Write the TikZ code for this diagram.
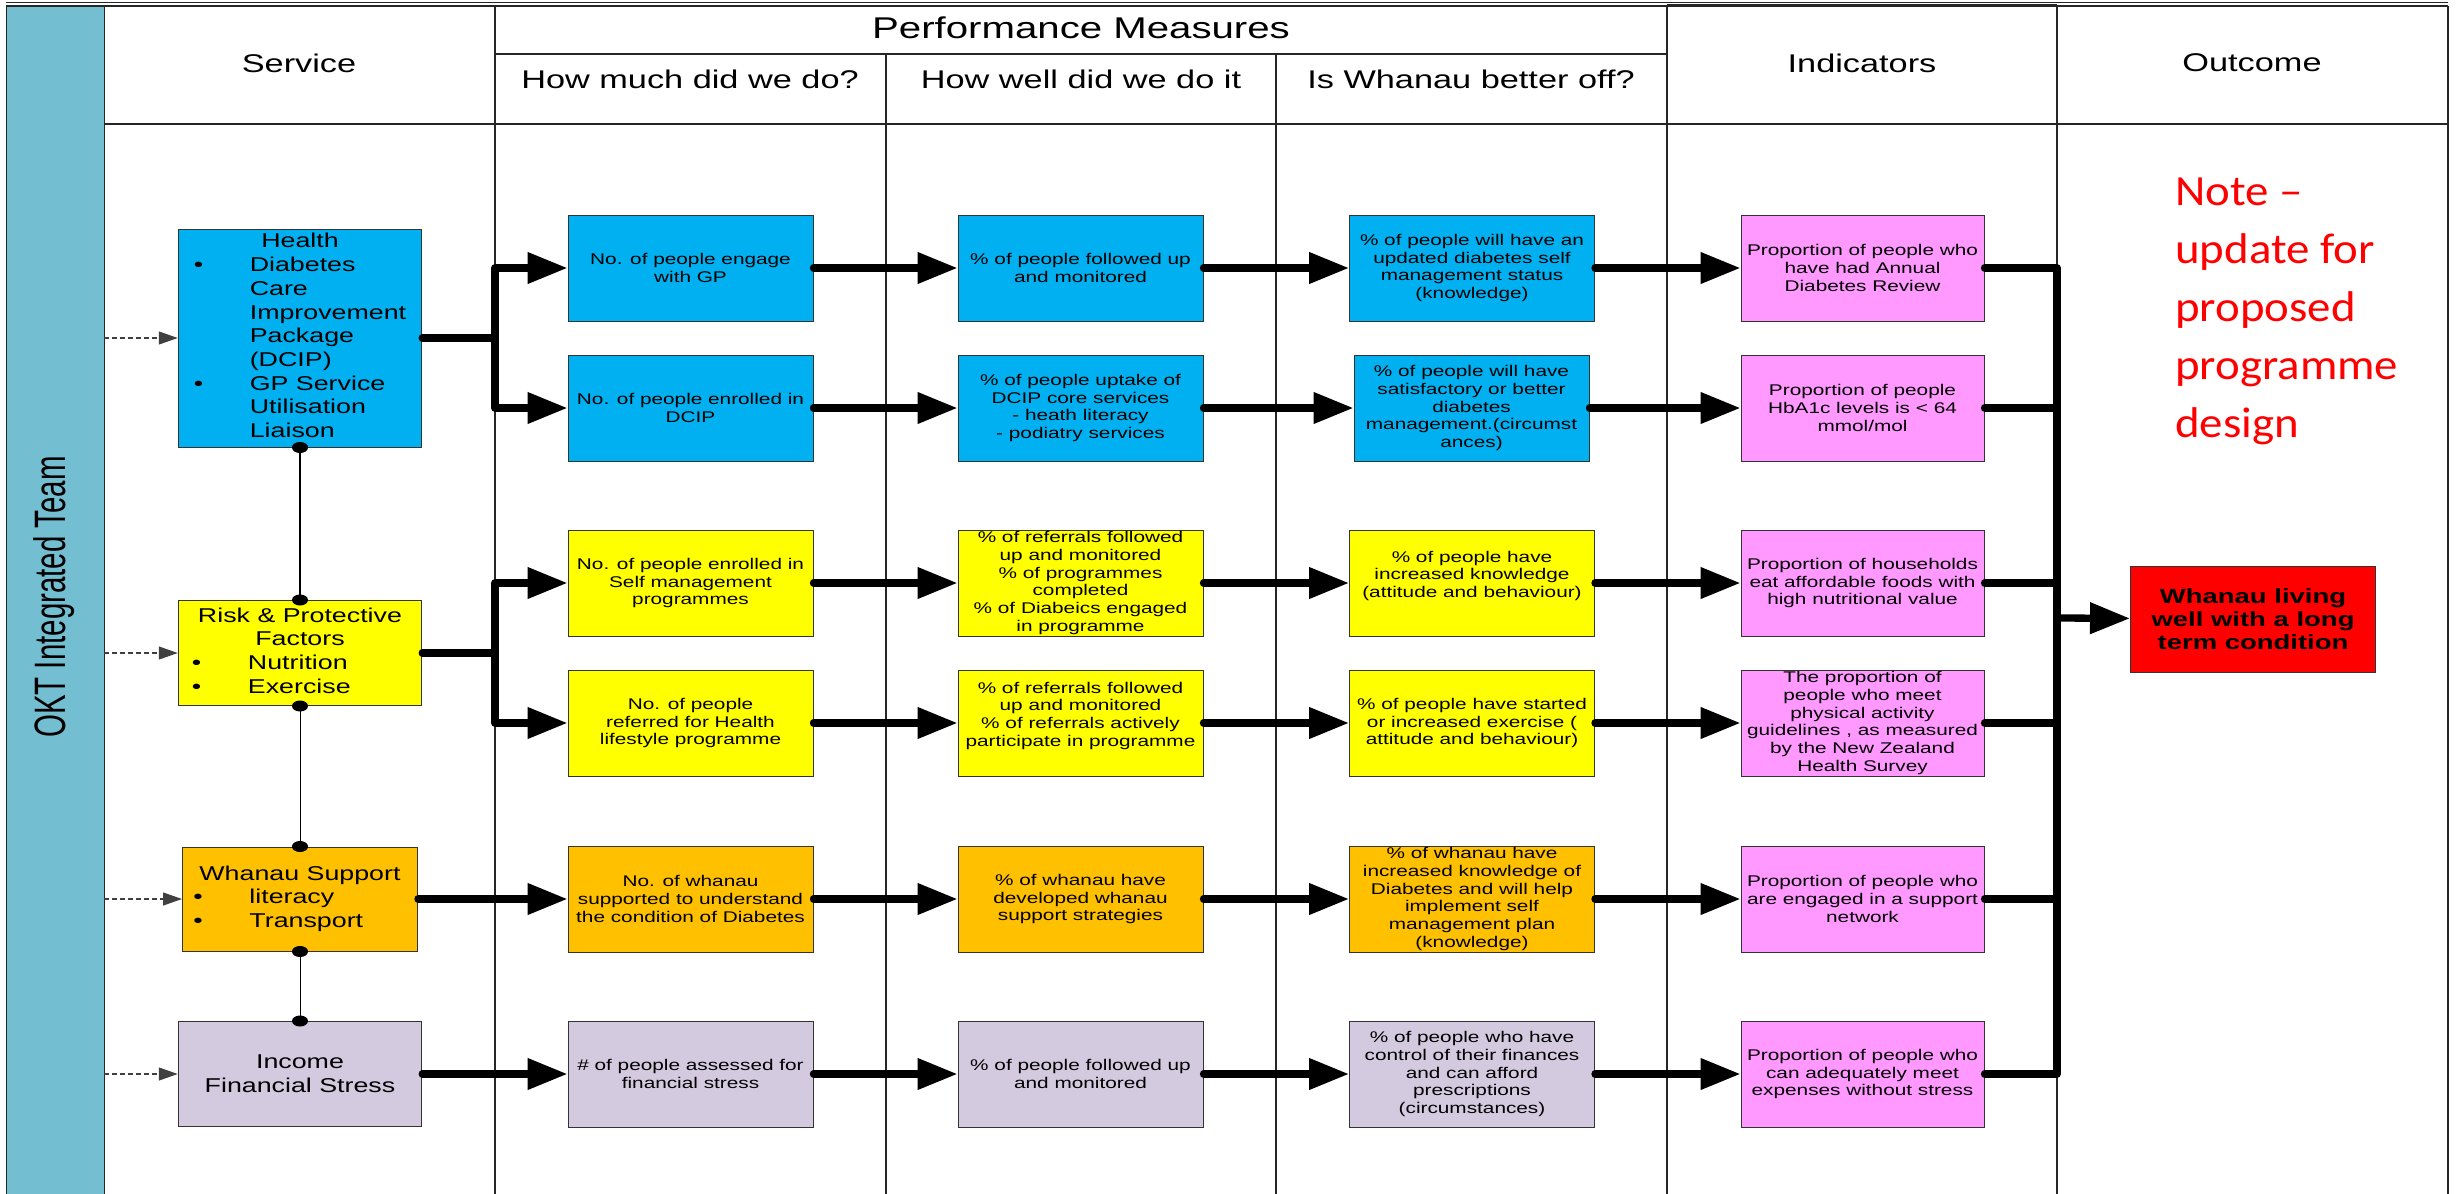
\documentclass[tikz,border=0pt]{standalone}
\usepackage{fontspec}
\setmainfont{Liberation Sans}[FakeStretch=1.34]
\newfontfamily\sidefont{Liberation Sans}[FakeStretch=0.67]
\newfontfamily\notefont{Carlito}[FakeStretch=1.09]
\usepackage{tikz}
\usetikzlibrary{arrows.meta}
\definecolor{stripblue}{HTML}{74BED2}
\definecolor{cblue}{HTML}{00B0F0}
\definecolor{cyellow}{HTML}{FFFF00}
\definecolor{corange}{HTML}{FFC000}
\definecolor{clilac}{HTML}{D3CAE0}
\definecolor{cpink}{HTML}{FF99FF}
\begin{document}
\begin{tikzpicture}[x=1pt, y=-1pt,
    box/.style={draw=black!80, line width=1pt, minimum width=245pt, minimum height=106pt, inner sep=0pt, align=center, font=\fontsize{15.5}{17.7}\selectfont},
    svc/.style={draw=black!80, line width=1pt, minimum width=243.5pt, minimum height=105pt, inner sep=0pt, align=center, font=\fontsize{20}{23.7}\selectfont},
    head/.style={font=\fontsize{25.6}{30}\selectfont},
    grid/.style={draw=black!85, line width=1.2pt},
    flow/.style={line width=7.3pt, line cap=round, line join=round, -{Triangle[length=40pt,width=30pt]}},
    link/.style={line width=7.3pt, line cap=round, line join=round},
    feed/.style={draw=black!75, line width=1.2pt, dash pattern=on 5pt off 3pt, -{Triangle[length=19pt,width=13pt]}},
    tie/.style={line width=1pt, {Circle[length=11pt,width=16pt]}-{Circle[length=11pt,width=16pt]}, shorten <=-5.5pt, shorten >=-5.5pt}]
    \useasboundingbox (0,0) rectangle (2458,1194);

    \draw[grid] (6,2.5) -- (2448,2.5) (6,6) -- (2448,6);
    \draw[grid, line width=2.2pt] (1667,5) -- (2057,5);
    \draw[grid] (104,124) -- (2448,124) (495,54) -- (1667,54);
    \draw[grid] (495,6) -- (495,1194) (886,54) -- (886,1194) (1276,54) -- (1276,1194) (2448,6) -- (2448,1194);
    \draw[grid, line width=2.2pt] (1667,6) -- (1667,1194) (2057,6) -- (2057,1194);

    \node[draw=black!85, fill=stripblue, minimum width=98pt, minimum height=1194pt, inner sep=0pt, anchor=north west] (strip) at (6,6) {};
    \node[rotate=90, font=\sidefont\fontsize{44}{50}\selectfont] (team) at (54,597) {OKT Integrated Team};

    \node[head] (service) at (299,63) {Service};
    \node[font=\fontsize{30}{34}\selectfont] (perf) at (1081,28) {Performance Measures};
    \node[head] (much) at (690,79) {How much did we do?};
    \node[head] (well) at (1081,79) {How well did we do it};
    \node[head] (better) at (1471,79) {Is Whanau better off?};
    \node[head] (indic) at (1862,63) {Indicators};
    \node[head] (outc) at (2252,63) {Outcome};

    \node[svc, fill=cblue, minimum height=218pt] (sone) at (300,338) {\begin{tabular}{@{}p{56pt}@{}l@{}}
        \multicolumn{2}{c}{Health}\\
        \textbullet & Diabetes\\ & Care\\ & Improvement\\ & Package\\ & (DCIP)\\
        \textbullet & GP Service\\ & Utilisation\\ & Liaison
      \end{tabular}};
    \node[svc, fill=cyellow] (stwo) at (300,653) {\begin{tabular}{@{}p{56pt}@{}l@{}}
        \multicolumn{2}{c}{Risk \& Protective}\\ \multicolumn{2}{c}{Factors}\\
        \textbullet & Nutrition\\ \textbullet & Exercise
      \end{tabular}};
    \node[svc, fill=corange, minimum width=235pt, minimum height=104pt] (sthree) at (300,899) {\begin{tabular}{@{}p{56pt}@{}l@{}}
        \multicolumn{2}{c}{Whanau Support}\\
        \textbullet & literacy\\ \textbullet & Transport
      \end{tabular}};
    \node[svc, fill=clilac] (sfour) at (300,1074) {Income\\Financial Stress};

    \node[box, fill=cblue] (mone) at (690.5,268) {No. of people engage\\with GP};
    \node[box, fill=cblue] (wone) at (1080.5,268) {\% of people followed up\\and monitored};
    \node[box, fill=cblue] (bone) at (1472,268) {\% of people will have an\\updated diabetes self\\management status\\(knowledge)};
    \node[box, fill=cpink, minimum width=243pt] (ione) at (1862.5,268) {Proportion of people who\\have had Annual\\Diabetes Review};

    \node[box, fill=cblue] (mtwo) at (690.5,408) {No. of people enrolled in\\DCIP};
    \node[box, fill=cblue] (wtwo) at (1080.5,408) {\% of people uptake of\\DCIP core services\\- heath literacy\\- podiatry services};
    \node[box, fill=cblue, minimum width=235pt] (btwo) at (1471.5,408) {\% of people will have\\satisfactory or better\\diabetes\\management.(circumst\\ances)};
    \node[box, fill=cpink, minimum width=243pt] (itwo) at (1862.5,408) {Proportion of people\\HbA1c levels is \textless{} 64\\mmol/mol};

    \node[box, fill=cyellow] (mthree) at (690.5,583) {No. of people enrolled in\\Self management\\programmes};
    \node[box, fill=cyellow] (wthree) at (1080.5,583) {\% of referrals followed\\up and monitored\\\% of programmes\\completed\\\% of Diabeics engaged\\in programme};
    \node[box, fill=cyellow] (bthree) at (1472,583) {\% of people have\\increased knowledge\\(attitude and behaviour)\\\mbox{}};
    \node[box, fill=cpink, minimum width=243pt] (ithree) at (1862.5,583) {Proportion of households\\eat affordable foods with\\high nutritional value};

    \node[box, fill=cyellow] (mfour) at (690.5,723) {No. of people\\referred for Health\\lifestyle programme};
    \node[box, fill=cyellow] (wfour) at (1080.5,723) {\% of referrals followed\\up and monitored\\\% of referrals actively\\participate in programme\\\mbox{}};
    \node[box, fill=cyellow] (bfour) at (1472,723) {\% of people have started\\or increased exercise (\\attitude and behaviour)};
    \node[box, fill=cpink, minimum width=243pt] (ifour) at (1862.5,723) {The proportion of\\people who meet\\physical activity\\guidelines , as measured\\by the New Zealand\\Health Survey};

    \node[box, fill=corange] (mfive) at (690.5,899) {No. of whanau\\supported to understand\\the condition of Diabetes};
    \node[box, fill=corange] (wfive) at (1080.5,899) {\% of whanau have\\developed whanau\\support strategies};
    \node[box, fill=corange] (bfive) at (1472,899) {\% of whanau have\\increased knowledge of\\Diabetes and will help\\implement self\\management plan\\(knowledge)};
    \node[box, fill=cpink, minimum width=243pt] (ifive) at (1862.5,899) {Proportion of people who\\are engaged in a support\\network};

    \node[box, fill=clilac] (msix) at (690.5,1074) {\# of people assessed for\\financial stress};
    \node[box, fill=clilac] (wsix) at (1080.5,1074) {\% of people followed up\\and monitored};
    \node[box, fill=clilac] (bsix) at (1472,1074) {\% of people who have\\control of their finances\\and can afford\\prescriptions\\(circumstances)};
    \node[box, fill=cpink, minimum width=243pt] (isix) at (1862.5,1074) {Proportion of people who\\can adequately meet\\expenses without stress};

    \node[box, fill=red, font=\bfseries\fontsize{20.5}{23.3}\selectfont] (goal) at (2253,619) {Whanau living\\well with a long\\term condition};
    \node[anchor=base west, align=left, inner sep=0pt, text=red, font=\notefont\fontsize{43}{58}\selectfont] (note) at (2175,437) {Note –\\update for\\proposed\\programme\\design};

    \coordinate (fone) at (495,338);
    \coordinate (ftwo) at (495,653);
    \coordinate (hub) at (2057,618);

    \draw[feed] (strip.east |- sone.west) -- (sone.west);
    \draw[feed] (strip.east |- stwo.west) -- (stwo.west);
    \draw[feed] (strip.east |- sthree.west) -- (sthree.west);
    \draw[feed] (strip.east |- sfour.west) -- (sfour.west);

    \draw[tie, line width=2pt] (sone) -- (stwo);
    \draw[tie] (stwo) -- (sthree);
    \draw[tie] (sthree) -- (sfour);

    \draw[flow] (sone.east) -- (fone) |- (mone.west);
    \draw[flow] (fone) |- (mtwo.west);
    \draw[flow] (stwo.east) -- (ftwo) |- (mthree.west);
    \draw[flow] (ftwo) |- (mfour.west);
    \draw[flow] (sthree) edge (mfive) (sfour) edge (msix);

    \draw[flow] (mone) edge (wone) (wone) edge (bone) (bone) edge (ione);
    \draw[flow] (mtwo) edge (wtwo) (wtwo) edge (btwo) (btwo) edge (itwo);
    \draw[flow] (mthree) edge (wthree) (wthree) edge (bthree) (bthree) edge (ithree);
    \draw[flow] (mfour) edge (wfour) (wfour) edge (bfour) (bfour) edge (ifour);
    \draw[flow] (mfive) edge (wfive) (wfive) edge (bfive) (bfive) edge (ifive);
    \draw[flow] (msix) edge (wsix) (wsix) edge (bsix) (bsix) edge (isix);

    \draw[link] (ione.east) -| (hub) |- (isix.east);
    \draw[link] (itwo.east) -- (itwo.east -| hub);
    \draw[link] (ithree.east) -- (ithree.east -| hub);
    \draw[link] (ifour.east) -- (ifour.east -| hub);
    \draw[link] (ifive.east) -- (ifive.east -| hub);
    \draw[flow] (hub) -- (goal);
\end{tikzpicture}
\end{document}
